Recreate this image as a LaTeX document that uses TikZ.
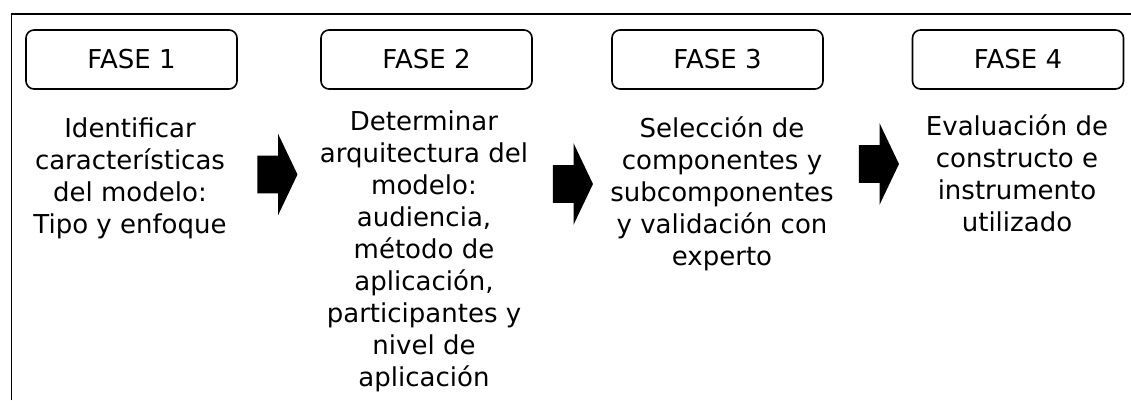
\documentclass[tikz,border=0pt]{standalone}
\usepackage{fontspec}
\setmainfont{DejaVu Sans}
\usepackage{tikz}
\usetikzlibrary{arrows.meta,shapes}

\tikzset{
  fasebox/.style={draw,line width=1.2pt,rounded corners=6pt,minimum width=158.25pt,minimum height=44.25pt,inner sep=0pt},
  fasetext/.style={align=center,anchor=north,inner sep=0pt},
  blockarrow/.style={single arrow,fill=black,draw=none,inner sep=0pt,text height=27.75pt,
    minimum height=30pt,single arrow head extend=16.5pt,single arrow tip angle=129},
}

\begin{document}
\begin{tikzpicture}[x=0.75pt,y=-0.75pt,font=\fontsize{19.5pt}{24pt}\selectfont]
\useasboundingbox (0,0) rectangle (1131,400);
\draw[line width=1.2pt](11.5,400)--(11.5,14)--(1131,14);
% fases
\node[fasebox](f1) at (131.5,59.5){FASE 1};
\node[fasebox](f2) at (426.5,59.5){FASE 2};
\node[fasebox](f3) at (717.5,59.5){FASE 3};
\node[fasebox](f4) at (1018,59.5){FASE 4};
% descripciones
\node[fasetext](t1) at (130,117){Identificar\\características\\del modelo:\\Tipo y enfoque};
\node[fasetext](t2) at (424,110){Determinar\\arquitectura del\\modelo:\\audiencia,\\método de\\aplicación,\\participantes y\\nivel de\\aplicación};
\node[fasetext](t3) at (722,116){Selección de\\componentes y\\subcomponentes\\y validación con\\experto};
\node[fasetext](t4) at (1017,114){Evaluación de\\constructo e\\instrumento\\utilizado};
% flechas
\node[blockarrow](a1) at (273,174.5){};
\node[blockarrow](a2) at (568.5,184){};
\node[blockarrow](a3) at (874.5,164){};
\end{tikzpicture}
\end{document}
